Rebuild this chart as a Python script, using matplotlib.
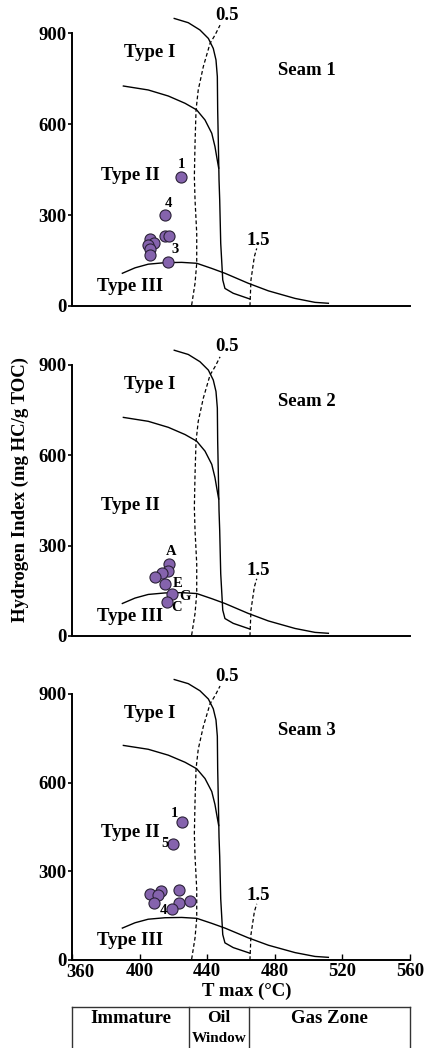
import matplotlib
matplotlib.use("Agg")
import matplotlib.pyplot as plt
import matplotlib.transforms as mtransforms

plt.rcParams['font.family'] = ['Liberation Serif', 'DejaVu Serif']
plt.rcParams['font.weight'] = 'bold'

# ---- boundary curves (T max in degC, HI in mg HC/g TOC) ----
type1_T = [420.5, 428.8, 435.7, 440.7, 443.6, 445.2, 446.0, 446.2, 446.6, 447.0,
           447.4, 448.0, 449.2, 450.5, 455.4, 465.3]
type1_HI = [949, 935, 911, 883, 850, 812, 757, 647, 537, 416,
            350, 207, 86, 58, 42, 23]
type2_T = [390.4, 405.1, 417.0, 426.9, 433.8, 438.7, 442.7, 444.6, 445.6, 446.8]
type2_HI = [726, 713, 693, 669, 647, 614, 570, 526, 493, 455]
type3_T = [389.8, 397.3, 405.1, 415.0, 424.9, 433.8, 442.7, 450.5, 464.3, 476.2,
           492.0, 503.8, 511.7]
type3_HI = [108, 126, 138, 143, 144, 141, 124, 108, 75, 50, 25, 12, 9]
ro05_T = [430.8, 432.8, 433.8, 433.8, 432.8, 432.4, 432.8, 433.4, 434.7, 437.7,
          441.7, 444.6, 447.6]
ro05_HI = [3, 75, 141, 240, 350, 427, 537, 647, 713, 790, 867, 894, 927]
ro15_T = [465.3, 465.9, 467.9, 469.3]
ro15_HI = [0, 86, 163, 190]

# ---- samples ----
seam1_T = [406.0, 408.4, 405.0, 406.4, 406.0, 414.9, 417.4, 415.0, 424.7, 416.8]
seam1_HI = [220, 209, 201, 188, 168, 231, 231, 299, 425, 146]
seam1_labels = ["1", "4", "3"]
seam1_label_T = [424.7, 417.0, 420.8]
seam1_label_HI = [467, 339, 185]

seam2_T = [417.4, 417.0, 413.3, 409.3, 415.3, 419.4, 416.3]
seam2_HI = [239, 217, 208, 197, 174, 140, 112]
seam2_labels = ["A", "E", "G", "C"]
seam2_label_T = [418.8, 422.7, 426.7, 421.8]
seam2_label_HI = [280, 175, 131, 95]

seam3_T = [425.3, 420.0, 405.9, 412.4, 410.8, 408.4, 423.3, 423.3, 429.6, 419.4]
seam3_HI = [466, 392, 223, 234, 220, 192, 237, 194, 201, 172]
seam3_labels = ["1", "5", "4"]
seam3_label_T = [420.8, 414.8, 414.4]
seam3_label_HI = [494, 394, 169]

seam_names = ["Seam 1", "Seam 2", "Seam 3"]
x_ticks = [360, 400, 440, 480, 520, 560]
y_ticks = [0, 300, 600, 900]

zone_edges = [360, 429.5, 464.5, 560]
zone_names = ["Immature", "Oil", "Gas Zone"]

W, H = 428, 1048
fig = plt.figure(figsize=(W / 100, H / 100), dpi=100)

left = 72 / W
width = 338 / W
panels = [(306, 272.7), (636, 271.0), (960, 266.0)]

seams = [
    (seam1_T, seam1_HI, seam1_labels, seam1_label_T, seam1_label_HI),
    (seam2_T, seam2_HI, seam2_labels, seam2_label_T, seam2_label_HI),
    (seam3_T, seam3_HI, seam3_labels, seam3_label_T, seam3_label_HI),
]

purple = '#8563ad'
axes = []
for i, ((ybot, hpx), seam) in enumerate(zip(panels, seams)):
    ax = fig.add_axes([left, 1 - ybot / H, width, hpx / H])
    axes.append(ax)
    ax.set_xlim(360, 560)
    ax.set_ylim(0, 900)
    for s in ['top', 'right']:
        ax.spines[s].set_visible(False)
    for s in ['left', 'bottom']:
        ax.spines[s].set_linewidth(1.4)
    ax.set_yticks(y_ticks)
    ax.tick_params(axis='y', direction='out', length=3, width=1.2, pad=1, labelsize=13.5)
    if i < 2:
        ax.set_xticks([])
    else:
        ax.set_xticks(x_ticks)
        ax.tick_params(axis='x', direction='in', length=4, width=1.0, pad=2, labelsize=13.5)
        first = ax.get_xticklabels()[0]
        first.set_transform(first.get_transform() +
                            mtransforms.ScaledTranslation(8 / 100, -1 / 100, fig.dpi_scale_trans))

    kw = dict(color='black', lw=1.0, clip_on=False, solid_joinstyle='round')
    ax.plot(type1_T, type1_HI, **kw)
    ax.plot(type2_T, type2_HI, **kw)
    ax.plot(type3_T, type3_HI, **kw)
    ax.plot(ro05_T, ro05_HI, color='black', lw=0.9, ls=(0, (3, 2)), clip_on=False)
    ax.plot(ro15_T, ro15_HI, color='black', lw=0.9, ls=(0, (3, 2)), clip_on=False)
    ax.text(452, 960, "0.5", fontsize=13.5, ha='center', va='center', clip_on=False)
    ax.text(470.5, 217, "1.5", fontsize=13.5, ha='center', va='center')

    ax.text(406, 835, "Type I", fontsize=13.5, ha='center', va='center')
    ax.text(394.8, 432, "Type II", fontsize=13.5, ha='center', va='center')
    ax.text(394.6, 66, "Type III", fontsize=13.5, ha='center', va='center')
    ax.text(499, 778, seam_names[i], fontsize=13.5, ha='center', va='center')

    sT, sHI, labs, lT, lHI = seam
    ax.scatter(sT, sHI, s=64, color=purple, edgecolors='#2b2238', linewidths=0.8, zorder=3, clip_on=False)
    for lab, tx, ty in zip(labs, lT, lHI):
        ax.text(tx, ty, lab, fontsize=10.5, ha='center', va='center', zorder=4)

# y label
fig.text(20 / W, 1 - 490 / H, "Hydrogen Index (mg HC/g TOC)", rotation=90,
         fontsize=13.5, ha='center', va='center')
# x label
fig.text(246.7 / W, 1 - 991.7 / H, "T max (\u00b0C)", fontsize=13.5, ha='center', va='center')

# maturity table under the bottom axis
axb = axes[-1]
trans = mtransforms.blended_transform_factory(axb.transData, fig.transFigure)
ytop = 1 - 1006.7 / H
axb.plot([zone_edges[0], zone_edges[-1]], [ytop, ytop], transform=trans, color='#333333', lw=1.0, clip_on=False)
for e in zone_edges:
    axb.plot([e, e], [ytop, -0.01], transform=trans, color='#333333', lw=1.0, clip_on=False)
ytxt = 1 - 1018.5 / H
for a, b, name in zip(zone_edges[:-1], zone_edges[1:], zone_names):
    axb.text((a + b) / 2, ytxt, name, transform=trans, fontsize=13.5 if name != "Oil" else 12.5,
             ha='center', va='center', clip_on=False)
axb.text((zone_edges[1] + zone_edges[2]) / 2, 1 - 1038.5 / H, "Window", transform=trans,
         fontsize=11, ha='center', va='center', clip_on=False)

fig.savefig("out.png", dpi=100)
